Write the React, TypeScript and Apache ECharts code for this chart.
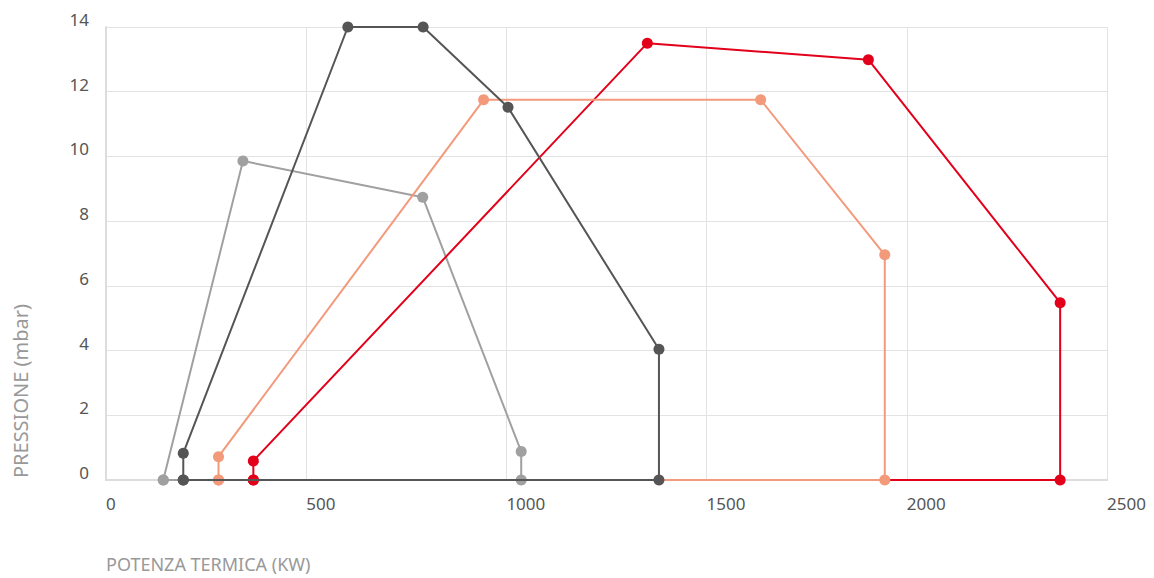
import React, { useEffect, useRef } from "react";
import * as echarts from "echarts";

const xTicks = [0, 500, 1000, 1500, 2000, 2500];
const yTicks = [0, 2, 4, 6, 8, 10, 12, 14];

const seriesNames = ["A", "B", "C", "D"];
const lightGrayX = [143, 342, 791, 1037, 1037, 143];
const lightGrayY = [0, 9.86, 8.74, 0.88, 0, 0];
const darkGrayX = [193, 193, 604, 792, 1004, 1381, 1381, 193];
const darkGrayY = [0, 0.83, 14, 14, 11.52, 4.04, 0, 0];
const salmonX = [281, 281, 943, 1635, 1945, 1945, 281];
const salmonY = [0, 0.72, 11.75, 11.75, 6.96, 0, 0];
const redX = [368, 368, 1352, 1904, 2383, 2383, 368];
const redY = [0, 0.59, 13.5, 12.99, 5.48, 0, 0];

const xAxisTitle = "POTENZA TERMICA (KW)";
const yAxisTitle = "PRESSIONE (mbar)";

const zip = (xs: number[], ys: number[]) => xs.map((x, i) => [x, ys[i]]);

export default function App() {
  const ref = useRef<HTMLDivElement>(null);
  useEffect(() => {
    if (!ref.current) return;
    const chart = echarts.init(ref.current, undefined, { renderer: "svg" });
    const font = "'Noto Sans', sans-serif";
    const mk = (name: string, xs: number[], ys: number[], color: string, z: number) => ({
      name,
      type: "line",
      data: zip(xs, ys),
      symbol: "circle",
      symbolSize: 11,
      z,
      lineStyle: { color, width: 2 },
      itemStyle: { color },
    });
    chart.setOption({
      animation: false,
      grid: { left: 106, right: 47, top: 27, bottom: 98, containLabel: false },
      xAxis: {
        type: "value",
        min: xTicks[0],
        max: xTicks[xTicks.length - 1],
        interval: 500,
        axisLine: { show: true, lineStyle: { color: "#dddddd", width: 2 } },
        axisTick: { show: false },
        splitLine: { show: true, lineStyle: { color: "#e3e3e3", width: 1 } },
        axisLabel: {
          align: "left",
          margin: 15,
          color: "#555555",
          fontSize: 17,
          fontFamily: font,
          formatter: (v: number) => String(v),
        },
      },
      yAxis: {
        type: "value",
        min: yTicks[0],
        max: yTicks[yTicks.length - 1],
        interval: 2,
        axisLine: { show: true, lineStyle: { color: "#dddddd", width: 2 } },
        axisTick: { show: false },
        splitLine: { show: true, lineStyle: { color: "#e3e3e3", width: 1 } },
        axisLabel: {
          margin: 17,
          color: "#555555",
          fontSize: 17,
          fontFamily: font,
          verticalAlign: "bottom",
          lineHeight: 15,
          formatter: (v: number) => String(v),
        },
      },
      graphic: [
        {
          type: "text",
          x: 106,
          y: 564,
          style: {
            text: xAxisTitle,
            fill: "#999999",
            fontSize: 18,
            lineHeight: 18,
            fontFamily: font,
            align: "left",
            verticalAlign: "middle",
          },
        },
        {
          type: "text",
          x: 20,
          y: 391,
          rotation: Math.PI / 2,
          style: {
            text: yAxisTitle,
            fill: "#999999",
            fontSize: 20,
            fontFamily: font,
            align: "center",
            verticalAlign: "middle",
          },
        },
      ],
      series: [
        mk(seriesNames[0], lightGrayX, lightGrayY, "#a0a0a0", 2),
        mk(seriesNames[3], redX, redY, "#e2001a", 3),
        mk(seriesNames[2], salmonX, salmonY, "#f39a7b", 4),
        mk(seriesNames[1], darkGrayX, darkGrayY, "#555555", 5),
      ],
    });
    return () => chart.dispose();
  }, []);
  return <div ref={ref} style={{ width: 1154, height: 578, position: "absolute", left: 0, top: 0 }} />;
}
